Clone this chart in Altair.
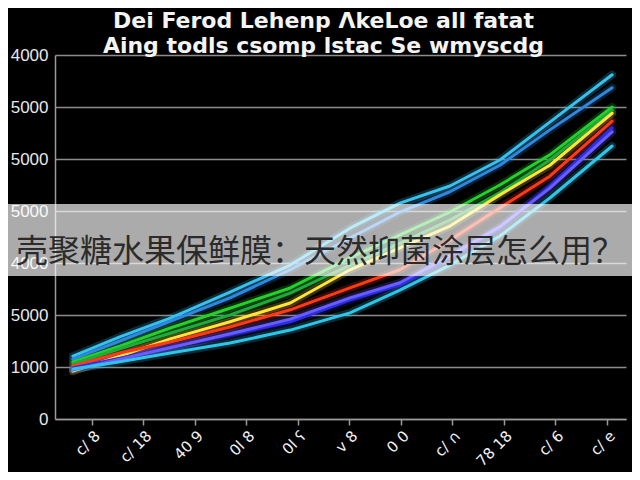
import altair as alt
import pandas as pd

# ---- data ----
x_steps = [0.63, 1.54, 2.52, 3.68, 4.85, 6.01, 6.98, 7.95, 8.92, 9.89, 11.10]

cyan_top = [1210, 1580, 1940, 2440, 2960, 3670, 4150, 4480, 4980, 5710, 6620]
blue = [1150, 1500, 1880, 2330, 2870, 3480, 3980, 4370, 4880, 5560, 6370]
green = [1100, 1400, 1750, 2130, 2520, 3100, 3540, 3980, 4500, 5080, 6000]
green2 = [1060, 1350, 1650, 2000, 2420, 2960, 3380, 3830, 4350, 4980, 5940]
yellow = [920, 1210, 1540, 1870, 2230, 2870, 3290, 3710, 4310, 4880, 5880]
red = [1020, 1270, 1480, 1770, 2100, 2520, 2870, 3440, 4060, 4670, 5730]
deep_blue = [980, 1170, 1380, 1620, 1870, 2290, 2580, 3100, 3670, 4480, 5600]
purple = [940, 1150, 1370, 1640, 1920, 2330, 2620, 3140, 3700, 4440, 5520]
cyan_bottom = [960, 1100, 1270, 1460, 1710, 2040, 2480, 2960, 3520, 4250, 5250]

series_names = ["s1", "s2", "s3", "s4", "s5", "s6", "s7", "s8", "s9"]
series_values = [cyan_top, blue, green, green2, yellow, red, deep_blue, purple, cyan_bottom]
series_colors = ["#36c2ef", "#2f88e0", "#25cf2c", "#1faa3c", "#ffe535",
                 "#ff3b17", "#2a2ee8", "#6b5cff", "#2ec6e8"]

x_tick_values = [1, 2, 3, 4, 5, 6, 7, 8, 9, 10, 11]
x_tick_labels = ["c/ 8", "c/ 18", "40 9", "0l 8", "0l ʕ", "v 8", "0 0", "c/ ∩", "78 18", "c/ 6", "c/ e"]

y_tick_values = [0, 1000, 2000, 3000, 4000, 5000, 6000, 7000]
y_tick_labels = ["0", "1000", "5000", "4000", "5000", "5000", "5000", "4000"]

title_lines = ["Dei Ferod Lehenp ΛkeLoe all fatat", "Aing todls csomp lstac Se wmyscdg"]
caption = "壳聚糖水果保鲜膜：天然抑菌涂层怎么用？"

# ---- table ----
rows = []
for name, vals in zip(series_names, series_values):
    for xv, yv in zip(x_steps, vals):
        rows.append({"series": name, "x": xv, "y": yv})
df = pd.DataFrame(rows)

x_expr = "[" + ",".join("'%s'" % s for s in x_tick_labels) + "][round(datum.value) - 1]"
y_expr = "[" + ",".join("'%s'" % s for s in y_tick_labels) + "][round(datum.value / 1000)]"

x_enc = alt.X("x:Q",
              scale=alt.Scale(domain=[0.282, 11.369], nice=False, zero=False),
              axis=alt.Axis(values=x_tick_values, labelExpr=x_expr, title=None, grid=False,
                            domainColor="#9a9a9a", domainWidth=1.5,
                            tickColor="#9a9a9a", tickWidth=1.5, tickSize=6,
                            labelColor="#f2f2f2", labelFontSize=15, labelAngle=-45,
                            labelFont="DejaVu Sans", labelPadding=3))
y_enc = alt.Y("y:Q",
              scale=alt.Scale(domain=[0, 7000], nice=False, zero=True),
              axis=alt.Axis(values=y_tick_values, labelExpr=y_expr, title=None,
                            grid=True, gridColor="#8c8c8c", gridWidth=1.5,
                            domainColor="#9a9a9a", domainWidth=1.5, ticks=False,
                            labelColor="#e8e8e8", labelFontSize=17,
                            labelFont="Liberation Sans", labelPadding=7))
color_enc = alt.Color("series:N", scale=alt.Scale(domain=series_names, range=series_colors),
                      legend=None)

base = alt.Chart(df).encode(x=x_enc, y=y_enc, color=color_enc, detail="series:N")
glow = base.mark_line(strokeWidth=8, opacity=0.22, strokeCap="round", strokeJoin="round")
lines = base.mark_line(strokeWidth=3, strokeCap="round", strokeJoin="round")

banner = alt.Chart(pd.DataFrame({"k": [0]})).mark_rect(color="#ffffff", opacity=0.67).encode(
    x=alt.value(-47), x2=alt.value(577), y=alt.value(149), y2=alt.value(221))
text = alt.Chart(pd.DataFrame({"t": [caption]})).mark_text(
    align="left", baseline="middle", fontSize=32, font="Noto Sans CJK SC",
    color="#2b2b2b").encode(x=alt.value(-39), y=alt.value(197), text="t:N")

chart = alt.layer(glow, lines, banner, text).properties(
    width=571, height=364,
    autosize=alt.AutoSizeParams(type="none"),
    padding={"left": 47, "top": 47, "right": 6, "bottom": 53},
    background="#000000",
    title=alt.TitleParams(text=title_lines, color="#f4f4f4", fontSize=22,
                          font="DejaVu Sans", fontWeight="bold", lineHeight=25,
                          anchor="middle", offset=-12, dx=-17),
).configure_view(stroke=None)

chart.save("out.html", embed_options={"renderer": "svg", "actions": False})
